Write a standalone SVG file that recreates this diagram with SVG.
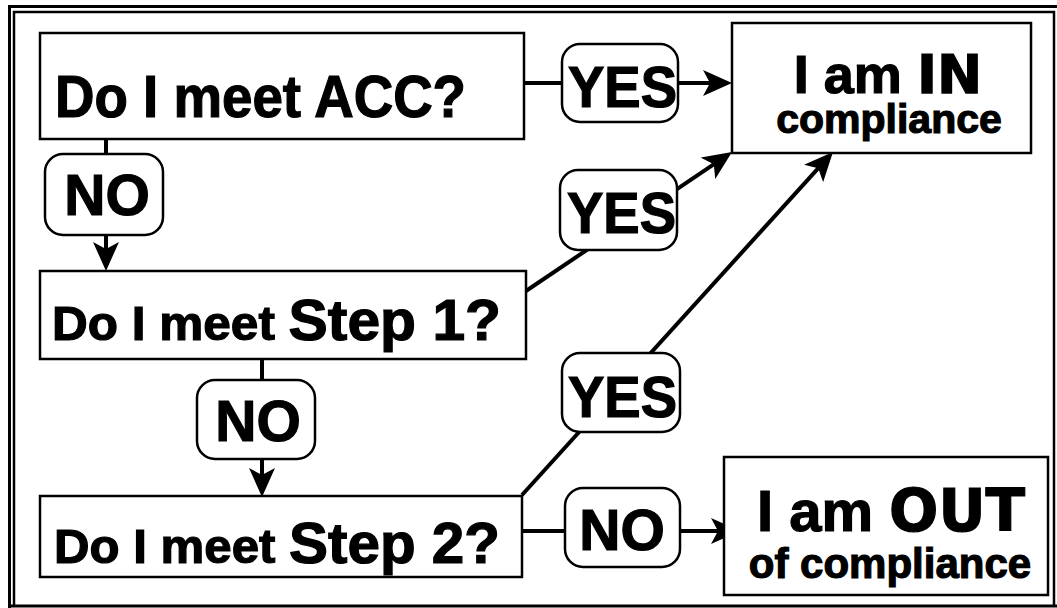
<svg xmlns="http://www.w3.org/2000/svg" width="1057" height="608" viewBox="0 0 1057 608">
<style>
.frame{fill:none;stroke:#000}
.box{fill:#fff;stroke:#000;stroke-width:2.5}
.lab{fill:#fff;stroke:#000;stroke-width:2.5}
.t{font-family:"Liberation Sans",Arial,sans-serif;font-weight:bold;fill:#000;stroke:#000;stroke-width:1.2}
.blk{font-family:"DejaVu Sans","Liberation Sans",sans-serif;font-weight:bold}
.c{fill:none;stroke:#000;stroke-width:4}
</style>
<defs>
<marker id="ah" markerUnits="userSpaceOnUse" markerWidth="30" markerHeight="26" viewBox="0 0 30 26" refX="18" refY="13" orient="auto">
<path d="M0,0 L29,13 L0,26 L7,13 Z" fill="#000"/>
</marker>
</defs>
<rect width="1057" height="608" fill="#fff"/>
<g id="border">
<path class="frame" stroke-width="3" d="M9.5,608 V6.5 H1057"/>
<path class="frame" stroke-width="2.5" d="M14,606 V12 H1054 V606"/>
<path class="frame" stroke-width="3" d="M9,606 H1057"/>
</g>
<g id="connectors">
<path class="c" d="M524,83 H721" marker-end="url(#ah)"/>
<path class="c" d="M106,125 V260" marker-end="url(#ah)"/>
<path class="c" d="M520,295 L722.9,158.2" marker-end="url(#ah)"/>
<path class="c" d="M262,352 V486" marker-end="url(#ah)"/>
<path class="c" d="M522,495 L825.6,160.1" marker-end="url(#ah)"/>
<path class="c" d="M522,531 H729" marker-end="url(#ah)"/>
</g>
<g id="acc">
<rect class="box" x="40" y="33" width="484" height="106"/>
<text class="t" x="55" y="117" font-size="59" textLength="411" lengthAdjust="spacingAndGlyphs">Do I meet ACC?</text>
</g>
<g id="step1">
<rect class="box" x="40" y="271" width="486" height="88"/>
<text class="t" x="52" y="340" textLength="449" lengthAdjust="spacingAndGlyphs"><tspan font-size="48">Do I meet </tspan><tspan font-size="57">Step 1?</tspan></text>
</g>
<g id="step2">
<rect class="box" x="40" y="496" width="482" height="81"/>
<text class="t" x="54" y="563" textLength="446" lengthAdjust="spacingAndGlyphs"><tspan font-size="48">Do I meet </tspan><tspan font-size="57">Step 2?</tspan></text>
</g>
<g id="in">
<rect class="box" x="732" y="23" width="299" height="130"/>
<text class="t" x="888" y="93" font-size="54" text-anchor="middle">I am <tspan class="blk">IN</tspan></text>
<text class="t" x="889" y="133" font-size="41" text-anchor="middle">compliance</text>
</g>
<g id="out">
<rect class="box" x="724" y="457" width="324" height="138"/>
<text class="t" x="891" y="531" font-size="58" text-anchor="middle">I am <tspan class="blk">OUT</tspan></text>
<text class="t" x="890" y="578" font-size="42" text-anchor="middle">of compliance</text>
</g>
<g id="no1">
<rect class="lab" x="45" y="154" width="118" height="81" rx="18"/>
<text class="t" x="107" y="215" font-size="57" text-anchor="middle">NO</text>
</g>
<g id="no2">
<rect class="lab" x="197" y="380" width="118" height="79" rx="18"/>
<text class="t" x="258" y="441" font-size="57" text-anchor="middle">NO</text>
</g>
<g id="no3">
<rect class="lab" x="565" y="488" width="115" height="79" rx="18"/>
<text class="t" x="622" y="550" font-size="57" text-anchor="middle">NO</text>
</g>
<g id="yes1">
<rect class="lab" x="562" y="44" width="116" height="78" rx="18"/>
<text class="t" x="568" y="107" font-size="57" textLength="109" lengthAdjust="spacingAndGlyphs">YES</text>
</g>
<g id="yes2">
<rect class="lab" x="560" y="170" width="117" height="80" rx="18"/>
<text class="t" x="567" y="233" font-size="57" textLength="109" lengthAdjust="spacingAndGlyphs">YES</text>
</g>
<g id="yes3">
<rect class="lab" x="562" y="353" width="118" height="79" rx="18"/>
<text class="t" x="568" y="417" font-size="57" textLength="109" lengthAdjust="spacingAndGlyphs">YES</text>
</g>
</svg>
